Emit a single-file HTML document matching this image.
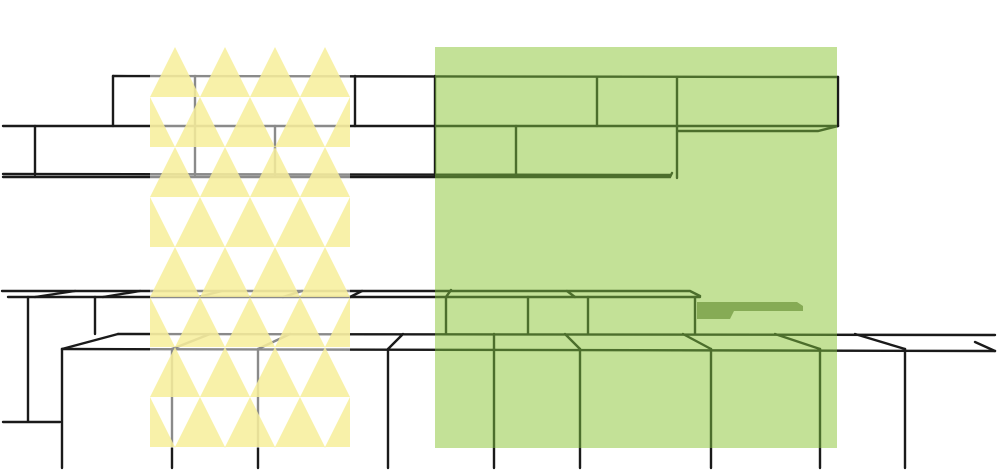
<!DOCTYPE html>
<html><head><meta charset="utf-8"><style>html,body{margin:0;padding:0;background:#fff;}svg{display:block}</style></head>
<body>
<svg width="1000" height="471" viewBox="0 0 1000 471" xmlns="http://www.w3.org/2000/svg" xmlns:xlink="http://www.w3.org/1999/xlink">
<defs>
<pattern id="tri" x="150" y="47" width="50" height="100" patternUnits="userSpaceOnUse">
<polygon points="25,0 50,50 0,50" fill="#f7ee9a"/>
<polygon points="0,50 25,100 -25,100" fill="#f7ee9a"/>
<polygon points="50,50 75,100 25,100" fill="#f7ee9a"/>
</pattern>
<clipPath id="cy"><rect x="150" y="47" width="200" height="401"/></clipPath>
<clipPath id="cg"><rect x="435" y="47" width="402" height="401"/></clipPath>
<g id="L">
<path d="M113,76 L838,77"/>
<path d="M3,126 L838,126"/>
<path d="M3,174 L670,175"/>
<path d="M3,177 L670,177 L672,173"/>
<path d="M678,131 L818,131 L838,126"/>
<path d="M113,76 V126 M195,76 V175 M355,76 V126 M435,76 V176 M597,77 V126 M677,77 V178 M838,77 V126"/>
<path d="M35,126 V175 M275,126 V175 M516,126 V176"/>
<path d="M2,291 L690,291 L700,296"/>
<path d="M8,297 L700,297"/>
<path d="M35,297 L75,291 M103,297 L140,291 M198,297 L222,291 M283,297 L302,291 M350,297 L362,291 M446,297 L451,290 M567,291 L575,297"/>
<path d="M28,297 V422 M3,422 H60 M95,297 V334"/>
<path d="M446,297 V334 M528,297 V334 M588,297 V334 M695,297 V334"/>
<path d="M118,334 L995,335"/>
<path d="M62,349 L995,351"/>
<path d="M62,349 L118,334 M172,349 L210,334 M258,349 L290,334 M388,349 L403,334 M494,349 L494,334 M580,349 L565,334 M711,349 L683,334 M820,349 L775,334 M905,349 L855,334 M995,351 L975,342"/>
<path d="M62,349 V468 M172,349 V468 M258,349 V468 M388,349 V468 M494,349 V468 M580,349 V468 M711,349 V468 M820,349 V468 M905,349 V468"/>
</g>
</defs>
<g stroke="#1a1a1a" stroke-width="2.4" fill="none" stroke-linecap="round">
<use xlink:href="#L" href="#L"/>
</g>
<rect x="150" y="47" width="200" height="401" fill="#fff"/>
<g clip-path="url(#cy)" stroke="#8a8a8a" stroke-width="2.4" fill="none" stroke-linecap="round">
<use xlink:href="#L" href="#L"/>
</g>
<rect x="150" y="47" width="200" height="401" fill="url(#tri)" opacity="0.85"/>
<rect x="435" y="47" width="402" height="401" fill="#c3e197"/>
<g clip-path="url(#cg)" stroke="#4c6e2c" stroke-width="2.4" fill="none" stroke-linecap="round">
<use xlink:href="#L" href="#L"/>
</g>
<polygon points="697,302 797,302 803,306 803,311 734,311 730,319 697,319" fill="#86ab55"/>
</svg>
</body></html>
